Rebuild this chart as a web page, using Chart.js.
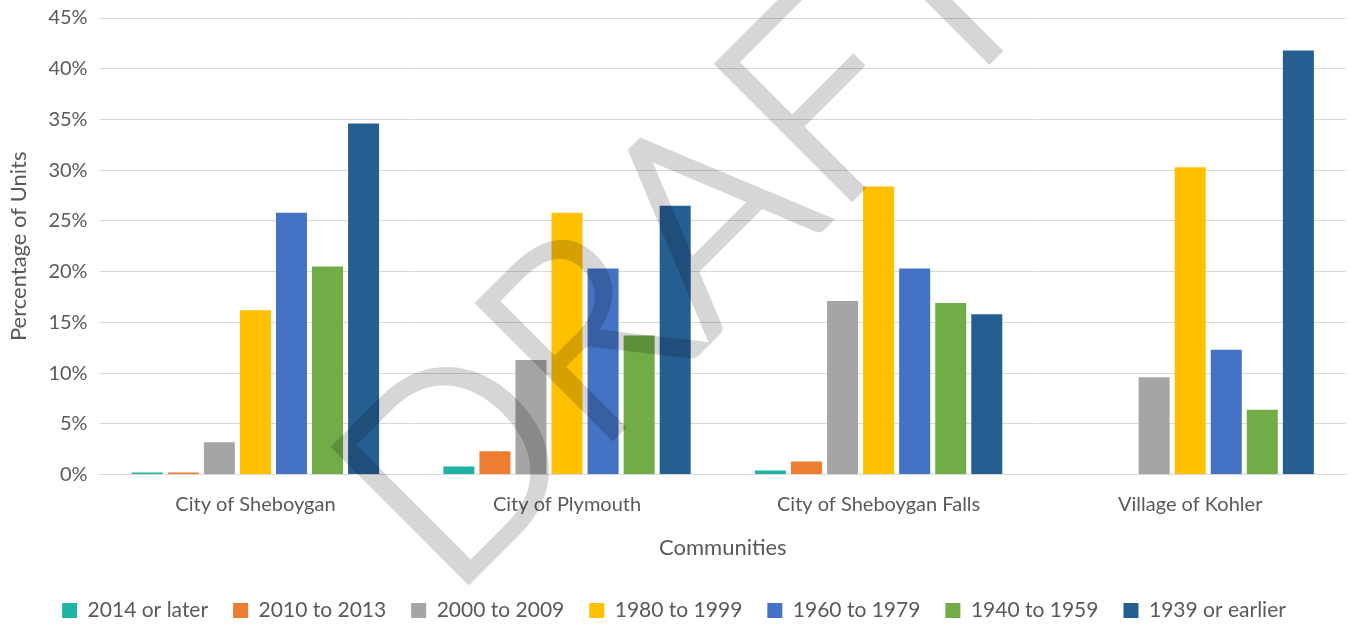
<!DOCTYPE html>
<html>
<head>
<meta charset="utf-8">
<script src="https://cdn.jsdelivr.net/npm/chart.js@4/dist/chart.umd.min.js"></script>
<style>
  html, body { margin: 0; padding: 0; background: #fff; }
  #wrap { width: 1351px; height: 626px; position: relative; }
</style>
</head>
<body>
<div id="wrap"><canvas id="chart"></canvas></div>
<script>
const communities = ["City of Sheboygan", "City of Plymouth", "City of Sheboygan Falls", "Village of Kohler"];
const periods = ["2014 or later", "2010 to 2013", "2000 to 2009", "1980 to 1999", "1960 to 1979", "1940 to 1959", "1939 or earlier"];
const colors = ["#1FB3A6", "#ED7D31", "#A5A5A5", "#FFC000", "#4472C4", "#70AD47", "#255E91"];

// percent of units, per period, for each community (same order as communities)
const built2014Later = [0.2, 0.8, 0.4, 0];
const built2010to2013 = [0.2, 2.3, 1.3, 0];
const built2000to2009 = [3.2, 11.3, 17.1, 9.6];
const built1980to1999 = [16.2, 25.8, 28.4, 30.3];
const built1960to1979 = [25.8, 20.3, 20.3, 12.3];
const built1940to1959 = [20.5, 13.7, 16.9, 6.4];
const built1939Earlier = [34.6, 26.5, 15.8, 41.8];

const series = [built2014Later, built2010to2013, built2000to2009, built1980to1999, built1960to1979, built1940to1959, built1939Earlier];

const FONT = "Lato, 'Open Sans', sans-serif";

// light grey "DRAFT" watermark drawn over the bars
const watermark = {
  id: "watermark",
  afterDraw(chart) {
    const w = chart.width, h = chart.height;
    const off = document.createElement("canvas");
    off.width = w;
    off.height = h;
    const o = off.getContext("2d");
    o.translate(449, 601);
    o.rotate(-Math.PI / 4);
    o.font = "300 268px " + FONT;
    o.fillStyle = "#000";
    o.strokeStyle = "#000";
    o.lineWidth = 6;
    o.lineJoin = "miter";
    o.fillText("DRAFT", 0, 0);
    o.strokeText("DRAFT", 0, 0);
    const ctx = chart.ctx;
    ctx.save();
    ctx.globalAlpha = 0.16;
    ctx.drawImage(off, 0, 0, w, h);
    ctx.restore();
  }
};

new Chart(document.getElementById("chart"), {
  type: "bar",
  data: {
    labels: communities,
    datasets: periods.map((p, i) => ({
      label: p,
      data: series[i],
      backgroundColor: colors[i],
      categoryPercentage: 0.81,
      barPercentage: 0.86
    }))
  },
  options: {
    responsive: true,
    maintainAspectRatio: false,
    animation: false,
    layout: { padding: { left: 2, right: 5, top: 0, bottom: -5 } },
    plugins: {
      tooltip: { enabled: false },
      legend: {
        position: "bottom",
        labels: {
          boxWidth: 15,
          boxHeight: 15,
          padding: 25,
          color: "#595959",
          font: { family: FONT, size: 21 }
        }
      }
    },
    scales: {
      x: {
        grid: { display: false, drawTicks: false },
        border: { color: "#d9d9d9" },
        ticks: { color: "#595959", padding: 20, font: { family: FONT, size: 20, lineHeight: 1 } },
        title: { display: true, text: "Communities", color: "#595959", padding: { top: 0, bottom: 14 }, font: { family: FONT, size: 22 } }
      },
      y: {
        min: 0,
        max: 45,
        afterFit: s => { s.paddingTop = 18; },
        grid: { color: "#d9d9d9", drawTicks: false },
        border: { display: false },
        ticks: {
          stepSize: 5,
          padding: 12,
          color: "#595959",
          font: { family: FONT, size: 20 },
          callback: v => v + "%"
        },
        title: { display: true, text: "Percentage of Units", color: "#595959", padding: { bottom: 4 }, font: { family: FONT, size: 22 } }
      }
    }
  },
  plugins: [watermark]
});
</script>
</body>
</html>
